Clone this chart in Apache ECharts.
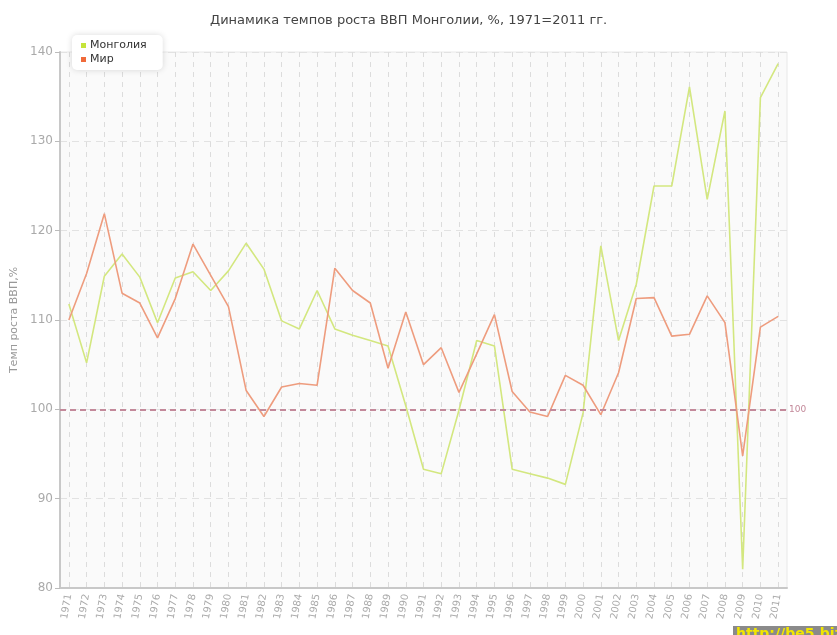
<!DOCTYPE html>
<html>
<head>
<meta charset="utf-8">
<script src="https://cdn.jsdelivr.net/npm/echarts@6/dist/echarts.min.js"></script>
<style>
  html, body { margin: 0; padding: 0; background: #fff; }
  #main { width: 837px; height: 635px; }
</style>
</head>
<body>
<div id="main"></div>
<script>
// годы
var years = [];
for (var y = 1971; y <= 2011; y++) years.push(String(y));

// Монголия, темп роста ВВП, %
var mongolia = [
  111.8, 105.2, 114.9, 117.4, 114.8, 109.7, 114.7, 115.4, 113.3, 115.5,
  118.6, 115.7, 109.9, 109.0, 113.3, 109.0, 108.3, 107.7, 107.1, 100.4,
  93.3, 92.8, 99.9, 107.7, 107.1, 93.3, 92.8, 92.3, 91.6, 99.6,
  118.3, 107.7, 114.0, 125.0, 125.0, 136.1, 123.5, 133.4, 82.1, 134.9,
  138.7
];

// Мир
var world = [
  110.0, 115.2, 121.9, 113.0, 111.9, 108.0, 112.4, 118.5, 115.0, 111.5,
  102.1, 99.2, 102.5, 102.9, 102.7, 115.8, 113.3, 111.9, 104.6, 110.9,
  105.0, 106.9, 101.9, 106.2, 110.6, 102.0, 99.7, 99.2, 103.8, 102.7,
  99.4, 104.1, 112.4, 112.5, 108.2, 108.4, 112.7, 109.7, 94.8, 109.2,
  110.4
];

var myChart = echarts.init(document.getElementById('main'));

var gridL = 60, gridR = 50, gridT = 52, gridB = 47;
// половина ширины категории, чтобы вертикальные линии шли по годам
var half = (837 - gridL - gridR) / years.length / 2;

var option = {
  animation: false,
  textStyle: { fontFamily: 'DejaVu Sans' },
  title: {
    text: 'Динамика темпов роста ВВП Монголии, %, 1971=2011 гг.',
    left: 205,
    top: 9,
    textStyle: { fontSize: 13, fontWeight: 'normal', color: '#444', fontFamily: 'DejaVu Sans' }
  },
  legend: {
    orient: 'vertical',
    left: 72,
    top: 35,
    padding: [5, 16, 5, 9],
    itemGap: 3,
    itemWidth: 5,
    itemHeight: 5,
    icon: 'rect',
    backgroundColor: '#fff',
    borderRadius: 5,
    shadowBlur: 6,
    shadowColor: 'rgba(0,0,0,0.15)',
    textStyle: { fontSize: 11, color: '#333', fontFamily: 'DejaVu Sans', padding: [0, 0, 0, -1] },
    data: [
      { name: 'Монголия', itemStyle: { color: '#c5e43a' } },
      { name: 'Мир', itemStyle: { color: '#f06a3a' } }
    ]
  },
  grid: [
    {
      left: gridL, right: gridR, top: gridT, bottom: gridB,
      outerBoundsMode: 'none',
      containLabel: false,
      show: true,
      backgroundColor: '#fafafa',
      borderColor: '#e8e8e8',
      borderWidth: 1
    },
    {
      left: gridL + half, right: gridR + half, top: gridT, bottom: gridB,
      outerBoundsMode: 'none',
      containLabel: false
    }
  ],
  xAxis: [
    {
      type: 'category',
      gridIndex: 0,
      data: years,
      boundaryGap: true,
      axisLine: { lineStyle: { color: '#c8c8c8', width: 2 } },
      axisTick: { alignWithLabel: true, length: 5, lineStyle: { color: '#bbb' } },
      axisLabel: { rotate: 80, interval: 0, fontSize: 10, color: '#aaa', margin: 6 },
      splitLine: { show: false }
    },
    {
      type: 'category',
      gridIndex: 1,
      data: years,
      boundaryGap: false,
      axisLine: { show: false },
      axisTick: { show: false },
      axisLabel: { show: false },
      splitLine: { show: true, interval: 0, lineStyle: { color: '#dcdcdc', type: [5, 5], width: 1 } }
    }
  ],
  yAxis: [
    {
      type: 'value',
      gridIndex: 0,
      min: 80,
      max: 140,
      interval: 10,
      name: 'Темп роста ВВП,%',
      nameLocation: 'middle',
      nameGap: 40,
      nameTextStyle: { color: '#999', fontSize: 11 },
      axisLine: { show: true, lineStyle: { color: '#c8c8c8', width: 2 } },
      axisTick: { show: true, length: 5, lineStyle: { color: '#bbb' } },
      axisLabel: { fontSize: 12, color: '#aaa', margin: 7 },
      splitLine: { show: true, lineStyle: { color: '#e2e2e2', type: [7, 5] } }
    },
    {
      type: 'value',
      gridIndex: 1,
      min: 80,
      max: 140,
      show: false,
      splitLine: { show: false }
    }
  ],
  series: [
    {
      name: 'Монголия',
      type: 'line',
      xAxisIndex: 0,
      yAxisIndex: 0,
      data: mongolia,
      symbol: 'none',
      lineStyle: { color: '#d3e77f', width: 1.6 },
      itemStyle: { color: '#d3e77f' }
    },
    {
      name: 'Мир',
      type: 'line',
      xAxisIndex: 0,
      yAxisIndex: 0,
      data: world,
      symbol: 'none',
      lineStyle: { color: '#ee9c7e', width: 1.6 },
      itemStyle: { color: '#ee9c7e' },
      z: 3,
      markLine: {
        silent: true,
        symbol: 'none',
        lineStyle: { color: '#c3899a', type: [6, 4], width: 2 },
        label: { show: true, position: 'end', formatter: '100', color: '#c3899a', fontSize: 9, distance: 2 },
        data: [{ yAxis: 100 }]
      }
    }
  ],
  graphic: [
    {
      type: 'rect',
      right: 0,
      bottom: 0,
      shape: { width: 104, height: 9 },
      style: { fill: '#8a8a8a' }
    },
    {
      type: 'text',
      left: 736,
      top: 627,
      style: { text: 'http://be5.biz', fill: '#f2e600', font: 'bold 14px DejaVu Sans' }
    }
  ]
};

myChart.setOption(option);
</script>
</body>
</html>
